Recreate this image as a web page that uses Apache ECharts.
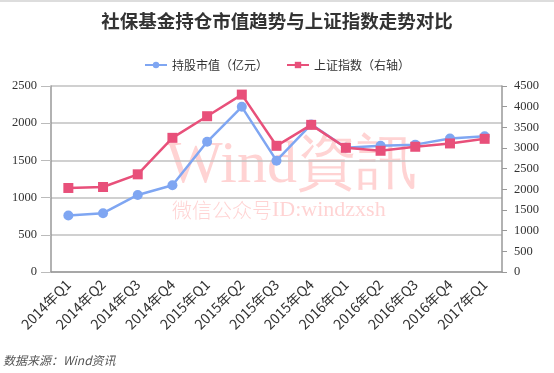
<!DOCTYPE html>
<html><head><meta charset="utf-8">
<script src="https://cdn.jsdelivr.net/npm/echarts@6/dist/echarts.min.js"></script>
<style>html,body{margin:0;padding:0;background:#fff}#c{width:554px;height:373px}</style>
</head><body><div id="c"></div>
<script>
const categories = ['2014年Q1','2014年Q2','2014年Q3','2014年Q4','2015年Q1','2015年Q2','2015年Q3','2015年Q4','2016年Q1','2016年Q2','2016年Q3','2016年Q4','2017年Q1'];
const holdingValue = [760, 790, 1036, 1166, 1750, 2220, 1496, 1984, 1670, 1697, 1712, 1795, 1825];
const shIndex = [2033, 2057, 2363, 3246, 3769, 4292, 3053, 3560, 3005, 2933, 3030, 3110, 3222];
const leftTicks = [0, 2500, 500];
const rightTicks = [0, 4500, 500];

const chart = echarts.init(document.getElementById('c'));
const serif = '"Liberation Serif","DejaVu Serif",serif';
const sans = '"Noto Sans CJK SC","Liberation Sans",sans-serif';
const plain = v => String(v);
const wm = 'rgba(255,120,120,0.33)';
chart.setOption({
  animation: false,
  title: {
    text: '社保基金持仓市值趋势与上证指数走势对比',
    left: 'center', top: 7,
    textStyle: {fontFamily: sans, fontSize: 18.5, fontWeight: 'bold', color: '#333'}
  },
  legend: {
    top: 54, left: 'center', itemGap: 18, itemWidth: 22, itemHeight: 8,
    textStyle: {fontFamily: sans, fontSize: 12, color: '#333'},
    data: ['持股市值（亿元）', '上证指数（右轴）']
  },
  grid: {left: 51, right: 52, top: 86, bottom: 101},
  xAxis: {
    type: 'category', data: categories, boundaryGap: true,
    axisLine: {lineStyle: {color: '#999', width: 1.5}},
    axisTick: {length: 5, lineStyle: {color: '#999'}},
    axisLabel: {rotate: 45, fontFamily: sans, fontSize: 14, color: '#333', margin: 10, interval: 0}
  },
  yAxis: [{
    type: 'value', min: leftTicks[0], max: leftTicks[1], interval: leftTicks[2],
    axisLine: {show: true, lineStyle: {color: '#999', width: 1.5}},
    axisTick: {show: true, length: 10, lineStyle: {color: '#bbb'}},
    splitLine: {lineStyle: {color: '#c0c0c0', width: 1.5}},
    axisLabel: {fontFamily: serif, fontSize: 12.5, color: '#333', margin: 14, formatter: plain}
  }, {
    type: 'value', min: rightTicks[0], max: rightTicks[1], interval: rightTicks[2],
    axisLine: {show: true, lineStyle: {color: '#999', width: 1.5}},
    axisTick: {show: true, length: 5, lineStyle: {color: '#999'}},
    splitLine: {show: false},
    axisLabel: {fontFamily: serif, fontSize: 12.5, color: '#333', margin: 12, formatter: plain}
  }],
  graphic: [
    {type: 'rect', left: 0, top: 0, shape: {width: 554, height: 2}, style: {fill: '#ddd'}, z: -10},
    {type: 'text', left: 166, top: 136, z: -5, style: {text: 'Wind資訊', fontFamily: serif, fontSize: 60, fill: wm}},
    {type: 'text', left: 172, top: 199, z: -5, style: {
      text: '{c|微信公众号}{l|ID:windzxsh}',
      fill: wm,
      rich: {
        c: {fontFamily: '"Noto Sans CJK SC",serif', fontSize: 20, fontWeight: 300, fill: wm},
        l: {fontFamily: serif, fontSize: 22, fill: wm}
      }
    }},
    {type: 'text', left: 3, top: 354, style: {text: '数据来源：Wind资讯', fontFamily: sans, fontSize: 12, fontStyle: 'italic', fill: '#555'}}
  ],
  series: [{
    name: '持股市值（亿元）', type: 'line', data: holdingValue, yAxisIndex: 0,
    symbol: 'circle', symbolSize: 10,
    lineStyle: {color: '#7fa6f2', width: 2.5}, itemStyle: {color: '#7fa6f2'}, z: 2
  }, {
    name: '上证指数（右轴）', type: 'line', data: shIndex, yAxisIndex: 1,
    symbol: 'rect', symbolSize: 10,
    lineStyle: {color: '#e8507a', width: 2.5}, itemStyle: {color: '#e8507a'}, z: 3
  }]
});
</script></body></html>
